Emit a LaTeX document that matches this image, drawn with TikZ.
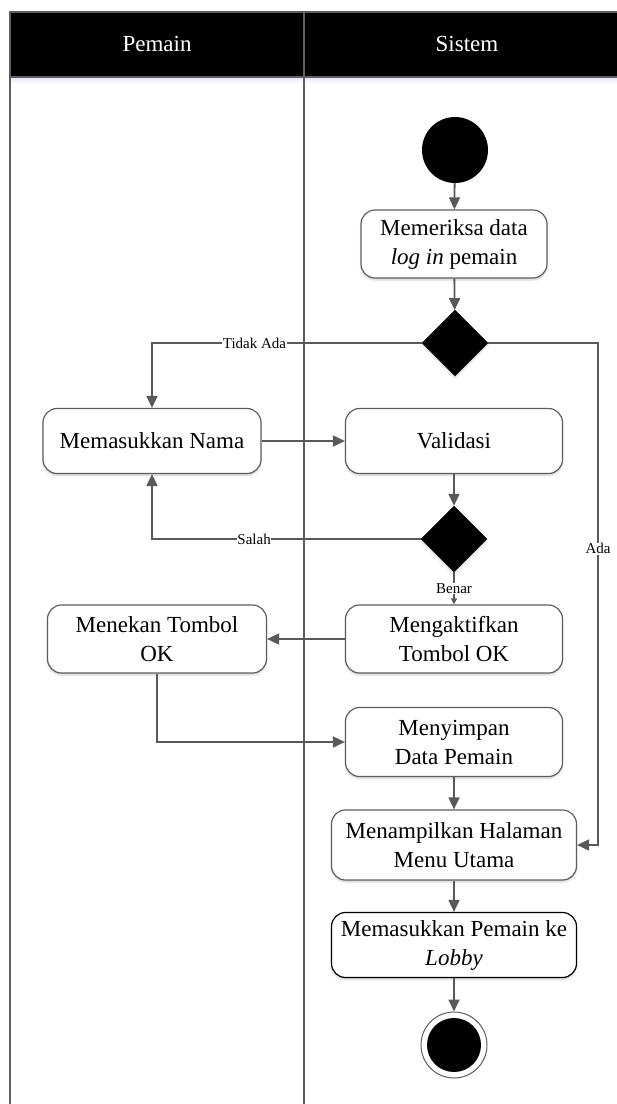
\documentclass[tikz,border=0pt]{standalone}
\usepackage{fontspec}
\setmainfont{Liberation Serif}
\usetikzlibrary{arrows.meta,shapes.geometric,shadows.blur}

\definecolor{edge}{HTML}{595959}
\definecolor{boxline}{HTML}{5E5E5E}

\begin{document}
\begin{tikzpicture}[x=1pt,y=-1pt,
  act/.style={draw=boxline, line width=1.2pt, rounded corners=14pt, fill=white,
    align=center, inner sep=0pt, font=\fontsize{23}{29}\selectfont,
    blur shadow={shadow xshift=0pt, shadow yshift=-2pt, shadow opacity=18, shadow blur steps=6}},
  flow/.style={draw=edge, line width=1.8pt, -{Triangle[length=12pt,width=11pt]}},
  flowsmall/.style={draw=edge, line width=1.8pt, -{Triangle[length=6pt,width=6pt]}},
  lab/.style={fill=white, inner sep=0.5pt, font=\fontsize{15}{17}\selectfont},
  hdr/.style={text=white, font=\fontsize{23}{26}\selectfont},
  decision/.style={diamond, fill=black, draw=black, minimum width=66pt, minimum height=66pt, inner sep=0pt,
    blur shadow={shadow xshift=0pt, shadow yshift=-2pt, shadow opacity=18, shadow blur steps=6}},
  lane/.style={draw=boxline, line width=1.4pt}
]
\useasboundingbox (0,0) rectangle (617,1104);

% swimlane header and borders
\fill[black] (10,12) rectangle (620,77);
\shade[top color=blue!10!white, bottom color=white] (10,77) rectangle (620,84);
\draw[lane] (620,12) -- (10,12) -- (10,1110);
\draw[lane] (304,12) -- (304,1110);
\draw[lane] (10,77) -- (620,77);
\node[hdr] (hpemain) at (157,44) {Pemain};
\node[hdr] (hsistem) at (467,44) {Sistem};

% activity nodes
\node[circle, fill=black, minimum size=66pt, inner sep=0pt] (start) at (455,150) {};
\node[act, minimum width=186pt, minimum height=68pt] (cek) at (454,244) {Memeriksa data\\\textit{log in} pemain};
\node[decision] (d1) at (455,343) {};
\node[act, minimum width=218pt, minimum height=65pt] (nama) at (152,441) {Memasukkan Nama};
\node[act, minimum width=217pt, minimum height=65pt] (valid) at (454,441) {Validasi};
\node[decision] (d2) at (454,539) {};
\node[act, minimum width=217pt, minimum height=68pt] (aktif) at (454,639) {Mengaktifkan\\Tombol OK};
\node[act, minimum width=219pt, minimum height=68pt] (tekan) at (157,639) {Menekan Tombol\\OK};
\node[act, minimum width=217pt, minimum height=69pt] (simpan) at (454,742) {Menyimpan\\Data Pemain};
\node[act, minimum width=245pt, minimum height=70pt] (menu) at (454,845) {Menampilkan Halaman\\Menu Utama};
\node[act, draw=black, minimum width=245pt, minimum height=65pt] (lobby) at (454,945) {Memasukkan Pemain ke\\\textit{Lobby}};
\node[circle, draw=boxline, line width=1pt, fill=white, minimum size=66pt, inner sep=0pt] (end) at (454,1045) {};
\node[circle, fill=black, minimum size=54pt, inner sep=0pt] (endin) at (end) {};
\coordinate (adaC) at (598,845);

% connectors
\draw[flow] (start) -- (cek);
\draw[flow] (cek) -- (d1);
\draw[flow] (d1.west) -| node[lab, pos=0.31] {Tidak Ada} (nama.north);
\draw[flow] (d1.east) -| node[lab, pos=0.705] {Ada} (adaC) -- (menu.east);
\draw[flow] (nama.east) -- (valid.west);
\draw[flow] (valid) -- (d2);
\draw[flow] (d2.west) -| node[lab, pos=0.31] {Salah} (nama.south);
\draw[flowsmall] (d2.south) -- node[lab] {Benar} (aktif.north);
\draw[flow] (aktif.west) -- (tekan.east);
\draw[flow] (tekan.south) |- (simpan.west);
\draw[flow] (simpan) -- (menu);
\draw[flow] (menu) -- (lobby);
\draw[flow] (lobby) -- (end);
\end{tikzpicture}
\end{document}
